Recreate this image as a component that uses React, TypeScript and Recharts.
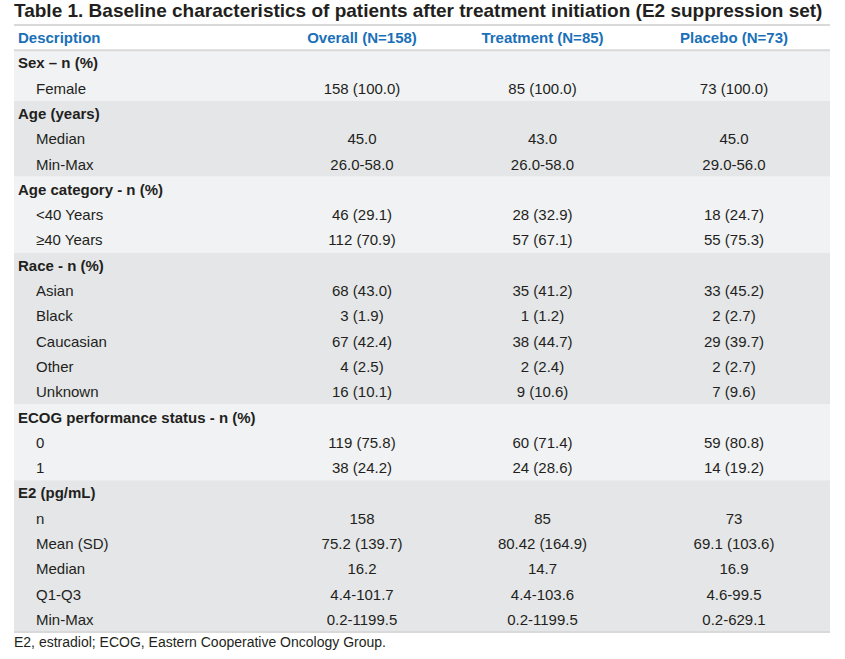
import { ScatterChart, Scatter, XAxis, YAxis, ReferenceArea, ReferenceLine } from 'recharts'

const title = 'Table 1. Baseline characteristics of patients after treatment initiation (E2 suppression set)'
const footnote = 'E2, estradiol; ECOG, Eastern Cooperative Oncology Group.'
const descriptionHeader = 'Description'
const columns = ['Overall (N=158)', 'Treatment (N=85)', 'Placebo (N=73)']

const descriptions = [
  'Sex – n (%)', 'Female',
  'Age (years)', 'Median', 'Min-Max',
  'Age category - n (%)', '<40 Years', '≥40 Years',
  'Race - n (%)', 'Asian', 'Black', 'Caucasian', 'Other', 'Unknown',
  'ECOG performance status - n (%)', '0', '1',
  'E2 (pg/mL)', 'n', 'Mean (SD)', 'Median', 'Q1-Q3', 'Min-Max',
]
// rows that open a section (bold, no values)
const sectionStarts = [0, 2, 5, 8, 14, 17]

const overallValues = [
  '', '158 (100.0)',
  '', '45.0', '26.0-58.0',
  '', '46 (29.1)', '112 (70.9)',
  '', '68 (43.0)', '3 (1.9)', '67 (42.4)', '4 (2.5)', '16 (10.1)',
  '', '119 (75.8)', '38 (24.2)',
  '', '158', '75.2 (139.7)', '16.2', '4.4-101.7', '0.2-1199.5',
]
const treatmentValues = [
  '', '85 (100.0)',
  '', '43.0', '26.0-58.0',
  '', '28 (32.9)', '57 (67.1)',
  '', '35 (41.2)', '1 (1.2)', '38 (44.7)', '2 (2.4)', '9 (10.6)',
  '', '60 (71.4)', '24 (28.6)',
  '', '85', '80.42 (164.9)', '14.7', '4.4-103.6', '0.2-1199.5',
]
const placeboValues = [
  '', '73 (100.0)',
  '', '45.0', '29.0-56.0',
  '', '18 (24.7)', '55 (75.3)',
  '', '33 (45.2)', '2 (2.7)', '29 (39.7)', '2 (2.7)', '7 (9.6)',
  '', '59 (80.8)', '14 (19.2)',
  '', '73', '69.1 (103.6)', '16.9', '4.6-99.5', '0.2-629.1',
]

const FONT = 'Arial, "Liberation Sans", Helvetica, sans-serif'
const BLUE = '#1a70b8'
const INK = '#231f20'
const RULE = '#d9d9d9'
const BAND_LIGHT = '#f1f2f4'
const BAND_DARK = '#e5e6e8'

const WIDTH = 845
const HEIGHT = 659
const MARGIN = { top: 25, right: 15, bottom: 27, left: 14 }
const TABLE_HALF = (WIDTH - MARGIN.left - MARGIN.right) / 2
// column padding (px) inside the table frame, one axis per value column
const columnPadding = [
  { left: 258, right: 378 },
  { left: 438, right: 197 },
  { left: 624, right: 0 },
]

const rowIds = ['header', ...descriptions.map((_, i) => `row-${i}`)]
const sectionEnds = sectionStarts.map((s, i) => (sectionStarts[i + 1] ?? descriptions.length) - 1)

const descriptionCells = [
  { row: 'header', col: descriptionHeader, text: descriptionHeader, kind: 'header' },
  ...descriptions.map((text, i) => ({
    row: rowIds[i + 1],
    col: descriptionHeader,
    text,
    kind: sectionStarts.includes(i) ? 'section' : 'item',
  })),
]

const columnCells = [overallValues, treatmentValues, placeboValues].map((values, c) => [
  { row: 'header', col: columns[c], text: columns[c], kind: 'header' },
  ...values.map((text, i) => ({ row: rowIds[i + 1], col: columns[c], text, kind: 'item' })),
])

const ValueCell = (props: any) => {
  const { cx, cy, payload } = props
  return (
    <text
      x={cx}
      y={cy}
      textAnchor="middle"
      dominantBaseline="central"
      fontFamily={FONT}
      fontSize={15}
      fontWeight={payload.kind === 'header' ? 700 : 400}
      fill={payload.kind === 'header' ? BLUE : INK}
    >
      {payload.text}
    </text>
  )
}

// description column is left aligned inside the full-width frame band
const DescriptionCell = (props: any) => {
  const { cx, cy, payload } = props
  const indent = payload.kind === 'item' ? 22 : 4
  return (
    <text
      x={cx - TABLE_HALF + indent}
      y={cy}
      textAnchor="start"
      dominantBaseline="central"
      fontFamily={FONT}
      fontSize={15}
      fontWeight={payload.kind === 'item' ? 400 : 700}
      fill={payload.kind === 'header' ? BLUE : INK}
    >
      {payload.text}
    </text>
  )
}

export default function App() {
  return (
    <div style={{ position: 'absolute', left: 0, top: 0, width: WIDTH, height: HEIGHT, background: '#fff' }}>
      <div
        style={{
          position: 'absolute', left: 14, top: 0, fontFamily: FONT, fontSize: 19,
          fontWeight: 700, color: INK, whiteSpace: 'nowrap', lineHeight: '22px',
        }}
      >
        {title}
      </div>
      <ScatterChart width={WIDTH} height={HEIGHT} margin={MARGIN}>
        <XAxis
          xAxisId="frame"
          type="category"
          dataKey="col"
          allowDuplicatedCategory={false}
          hide
        />
        {columns.map((col, c) => (
          <XAxis
            key={col}
            xAxisId={`col-${c}`}
            type="category"
            dataKey="col"
            allowDuplicatedCategory={false}
            padding={columnPadding[c]}
            hide
          />
        ))}
        <YAxis
          type="category"
          dataKey="row"
          allowDuplicatedCategory={false}
          reversed
          hide
        />
        {sectionStarts.map((start, s) => (
          <ReferenceArea
            key={start}
            xAxisId="frame"
            y1={rowIds[start + 1]}
            y2={rowIds[sectionEnds[s] + 1]}
            fill={s % 2 === 0 ? BAND_LIGHT : BAND_DARK}
            fillOpacity={1}
            stroke="none"
            ifOverflow="visible"
          />
        ))}
        <ReferenceLine xAxisId="frame" y="header" position="start" stroke={RULE} strokeWidth={2} ifOverflow="visible" />
        <ReferenceLine xAxisId="frame" y={rowIds[1]} position="start" stroke={RULE} strokeWidth={2} ifOverflow="visible" />
        <ReferenceLine
          xAxisId="frame"
          y={rowIds[rowIds.length - 1]}
          position="end"
          stroke={RULE}
          strokeWidth={2}
          ifOverflow="visible"
        />
        <Scatter
          xAxisId="frame"
          data={descriptionCells}
          shape={<DescriptionCell />}
          isAnimationActive={false}
        />
        {columnCells.map((cells, c) => (
          <Scatter
            key={columns[c]}
            xAxisId={`col-${c}`}
            data={cells}
            shape={<ValueCell />}
            isAnimationActive={false}
          />
        ))}
      </ScatterChart>
      <div
        style={{
          position: 'absolute', left: 14, top: 634, fontFamily: FONT, fontSize: 14,
          color: INK, whiteSpace: 'nowrap',
        }}
      >
        {footnote}
      </div>
    </div>
  )
}
